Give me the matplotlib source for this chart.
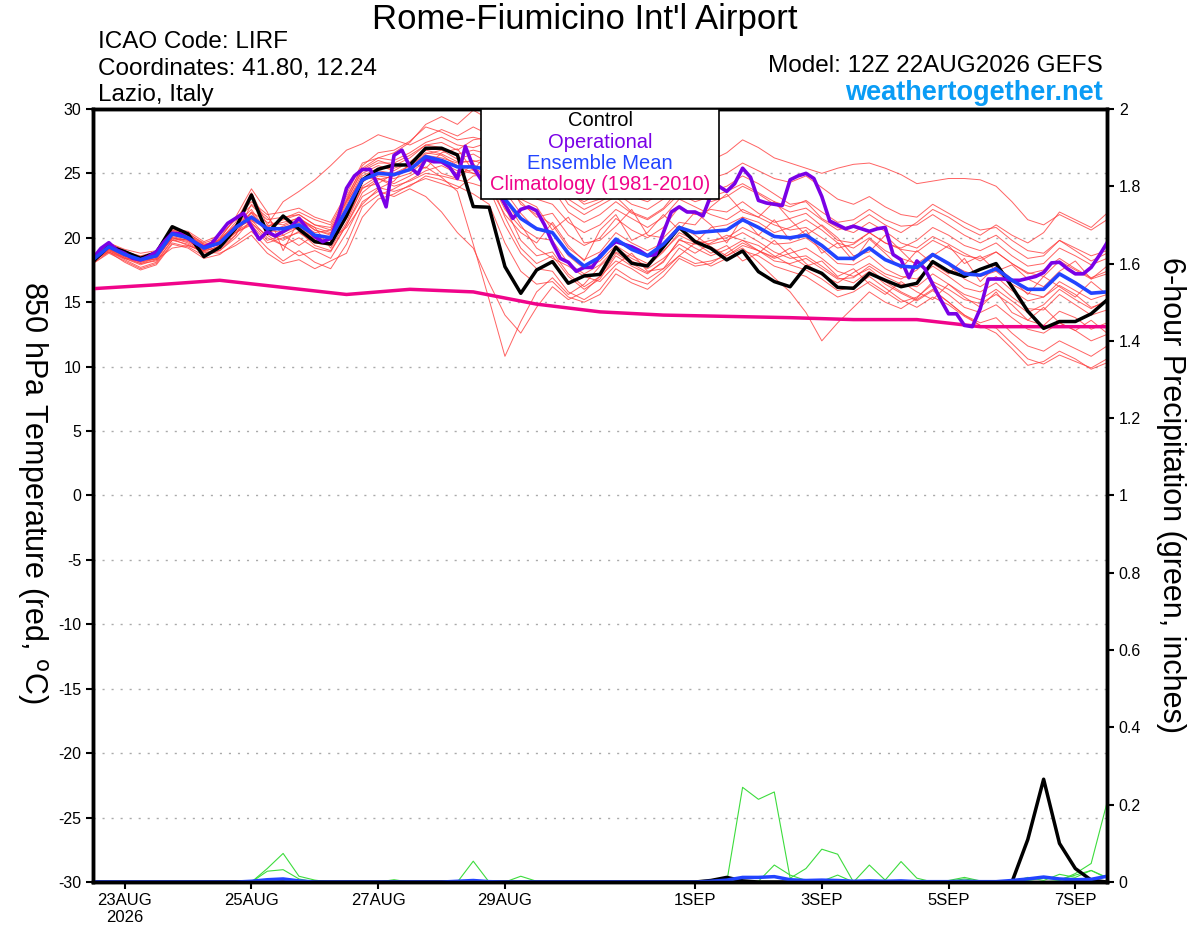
import numpy as np
import pandas as pd
import matplotlib
matplotlib.use('Agg')
import matplotlib.pyplot as plt

plt.rcParams['font.family'] = ['Liberation Sans', 'DejaVu Sans']
plt.rcParams['axes.unicode_minus'] = False

# GEFS run 12Z 22AUG2026, 6-hourly (ensemble) and 3-hourly (operational)
times6 = pd.date_range('2026-08-22 12:00', periods=65, freq='6h')
times3 = pd.date_range('2026-08-22 12:00', periods=129, freq='3h')
clim_times = pd.date_range('2026-08-22 12:00', periods=17, freq='1D')

control = [18.15, 19.36, 18.92, 18.41, 18.85, 20.86, 20.3, 18.54, 19.26, 20.74,
           23.32, 20.35, 21.69, 20.66, 19.7, 19.52, 21.7, 24.49, 25.32, 25.65,
           25.65, 26.95, 26.95, 26.43, 22.42, 22.37, 17.76, 15.69, 17.5, 18.15,
           16.47, 17.04, 17.16, 19.26, 18.02, 17.81, 19.3, 20.81, 19.7, 19.18,
           18.28, 18.98, 17.37, 16.6, 16.2, 17.76, 17.24, 16.15, 16.08, 17.24,
           16.7, 16.2, 16.47, 18.15, 17.4, 17.0, 17.55, 18.0, 16.2, 14.3,
           12.97, 13.5, 13.5, 14.1, 15.17]

ens_mean = [18.3, 19.3, 18.7, 18.3, 18.6, 20.3, 20.0, 19.2, 19.6, 20.8,
            21.6, 20.7, 20.7, 21.0, 20.2, 20.0, 22.2, 24.5, 25.0, 24.9,
            25.3, 26.3, 26.0, 25.5, 25.5, 25.3, 23.0, 21.5, 20.7, 20.4,
            18.8, 17.8, 18.5, 19.9, 19.1, 18.6, 19.5, 20.8, 20.4, 20.5,
            20.6, 21.4, 20.8, 20.1, 20.0, 20.2, 19.4, 18.4, 18.4, 19.2,
            18.3, 17.8, 17.7, 18.7, 18.0, 17.2, 17.1, 17.6, 16.7, 16.0,
            16.0, 17.2, 16.5, 15.7, 15.8]

operational = [18.41, 19.18, 19.62, 19.05, 18.79, 18.41, 18.28, 18.54, 18.92, 19.7,
               20.35, 20.3, 19.96, 19.57, 19.26, 19.57, 20.35, 21.12, 21.51, 21.9,
               20.86, 19.88, 20.48, 20.14, 20.48, 20.86, 21.51, 20.74, 20.09, 19.7,
               19.96, 21.64, 23.84, 24.8, 25.3, 25.3, 24.0, 22.4, 26.4, 26.8,
               25.5, 24.95, 26.1, 25.9, 25.9, 25.5, 24.6, 27.1, 25.5, 24.5,
               24.0, 23.7, 22.6, 21.5, 22.2, 22.4, 22.1, 21.0, 19.6, 18.4,
               18.1, 17.4, 17.7, 17.7, 18.6, 19.2, 19.7, 19.5, 19.3, 19.0,
               18.6, 18.7, 20.4, 22.0, 22.4, 22.0, 22.0, 21.7, 23.3, 24.0,
               23.6, 24.2, 25.4, 24.7, 22.9, 22.7, 22.6, 22.5, 24.5, 24.8,
               25.0, 24.6, 23.2, 21.3, 21.0, 20.7, 20.9, 20.7, 20.5, 20.7,
               20.8, 18.7, 18.3, 16.9, 18.2, 17.6, 16.4, 15.2, 14.1, 14.1,
               13.2, 13.1, 14.5, 16.8, 16.8, 16.8, 16.7, 16.7, 16.85, 17.0,
               17.3, 18.05, 18.1, 17.6, 17.2, 17.2, 17.7, 18.6, 19.6]

climatology = [16.05, 16.35, 16.7, 16.15, 15.6, 16.0, 15.8, 14.85, 14.25,
               14.0, 13.9, 13.8, 13.65, 13.65, 13.1, 13.1, 13.1]

members = [
    [18.2, 19.0, 18.5, 18.0, 18.4, 20.0, 19.7, 19.0, 19.8, 21.2, 23.5, 21.0, 22.8, 23.6, 24.5, 25.6, 26.8, 27.3, 28.0, 27.6,
     27.2, 27.8, 28.4, 27.9, 28.6, 28.0, 26.5, 25.0, 23.8, 24.5, 22.6, 21.8, 22.5, 23.2, 22.0, 21.5, 22.3, 23.8, 24.5, 23.6,
     24.0, 24.8, 24.2, 23.4, 22.6, 22.8, 21.5, 20.8, 20.4, 21.2, 20.5, 19.6, 19.2, 20.1, 19.5, 18.8, 18.2, 18.9, 18.0, 17.2,
     17.5, 18.4, 17.6, 16.9, 17.4],
    [18.4, 19.5, 18.9, 18.6, 18.9, 20.6, 20.4, 19.5, 19.4, 20.5, 21.2, 19.8, 20.2, 20.8, 19.9, 19.6, 21.5, 23.8, 24.6, 24.2,
     24.8, 25.5, 24.7, 23.6, 19.5, 15.2, 10.8, 13.5, 15.8, 16.9, 15.6, 16.4, 17.8, 18.9, 18.2, 17.6, 18.4, 19.5, 18.8, 19.6,
     20.2, 19.8, 19.0, 18.5, 19.2, 18.0, 17.1, 16.5, 17.3, 18.0, 17.2, 16.8, 17.5, 18.6, 17.9, 16.8, 16.2, 17.0, 15.9, 15.1,
     15.4, 16.6, 15.9, 15.2, 15.6],
    [18.0, 18.9, 18.3, 17.7, 18.1, 19.8, 19.5, 18.8, 19.2, 20.2, 22.0, 20.3, 19.8, 20.5, 19.4, 19.0, 21.0, 23.5, 24.5, 24.8,
     25.6, 26.5, 26.8, 26.1, 26.5, 25.8, 22.4, 19.8, 18.6, 18.9, 17.2, 16.2, 17.0, 18.8, 18.0, 17.3, 18.1, 19.9, 19.2, 18.6,
     19.1, 19.8, 19.4, 18.6, 17.9, 17.5, 16.8, 15.9, 16.2, 17.0, 16.1, 15.2, 14.6, 15.4, 14.8, 13.9, 13.2, 12.6, 11.4, 10.1,
     10.4, 11.2, 10.6, 9.8, 10.3],
    [18.5, 19.4, 18.8, 18.3, 18.7, 20.4, 20.1, 19.4, 19.9, 21.0, 21.9, 20.4, 20.9, 21.4, 20.6, 20.3, 22.6, 25.0, 25.6, 25.2,
     25.9, 26.8, 26.5, 25.9, 25.9, 26.2, 24.8, 22.6, 21.8, 21.0, 19.2, 18.3, 18.9, 20.4, 19.6, 19.0, 19.6, 20.9, 20.2, 19.3,
     18.6, 19.2, 18.1, 16.9, 15.8, 14.2, 12.0, 13.4, 14.6, 15.8, 15.0, 14.5, 15.3, 16.6, 16.0, 15.2, 14.9, 15.6, 14.8, 13.6,
     13.2, 14.3, 13.8, 12.9, 13.4],
    [18.3, 19.2, 18.6, 18.2, 18.5, 20.2, 19.9, 19.1, 19.5, 20.6, 21.5, 20.9, 21.2, 21.5, 20.8, 20.4, 22.8, 25.3, 26.0, 25.6,
     26.2, 27.2, 27.0, 26.5, 26.8, 26.5, 25.2, 24.6, 24.0, 24.2, 23.4, 22.8, 23.5, 24.3, 23.6, 23.0, 23.8, 25.2, 25.8, 26.0,
     26.6, 27.6, 27.0, 26.2, 25.8, 25.4, 25.0, 25.4, 25.7, 25.8, 25.4, 24.9, 24.2, 24.4, 24.6, 24.6, 24.5, 24.0, 22.8, 21.4,
     21.0, 21.8, 21.2, 20.6, 21.4],
    [18.6, 19.6, 19.0, 18.5, 18.8, 20.5, 20.3, 19.6, 20.0, 21.5, 22.8, 21.8, 22.0, 22.3, 21.6, 21.2, 23.4, 25.8, 26.2, 26.0,
     26.6, 27.4, 27.8, 27.2, 27.0, 27.4, 25.8, 24.8, 25.2, 24.6, 23.0, 22.2, 22.8, 23.5, 22.6, 22.2, 23.0, 24.2, 23.4, 22.8,
     23.2, 24.0, 23.4, 22.6, 22.0, 22.3, 21.4, 20.6, 21.0, 21.8, 21.0, 20.4, 21.2, 22.2, 21.6, 20.8, 20.2, 21.0, 20.2, 19.6,
     20.4, 22.0, 21.4, 20.8, 21.9],
    [18.1, 19.1, 18.4, 17.9, 18.3, 20.1, 19.8, 19.0, 19.3, 20.4, 21.0, 19.6, 20.0, 20.4, 19.6, 19.4, 21.6, 24.0, 24.8, 24.6,
     25.0, 26.0, 25.8, 25.2, 25.0, 24.6, 21.6, 19.2, 18.0, 18.6, 17.0, 16.0, 16.8, 18.6, 17.8, 17.2, 18.2, 19.8, 19.5, 19.8,
     20.0, 20.8, 20.2, 19.5, 19.6, 20.0, 19.1, 18.0, 17.9, 18.6, 17.6, 17.0, 16.8, 17.8, 17.0, 16.1, 15.8, 16.5, 15.4, 14.5,
     14.4, 15.6, 14.8, 14.0, 14.4],
    [18.0, 18.8, 18.2, 17.6, 18.0, 19.6, 19.3, 18.6, 19.0, 20.0, 21.4, 20.0, 19.4, 18.6, 19.0, 18.4, 20.4, 22.8, 23.6, 23.2,
     23.8, 23.2, 22.0, 20.4, 19.2, 16.5, 14.0, 12.6, 14.6, 16.2, 15.2, 15.8, 17.0, 18.2, 17.6, 16.8, 17.6, 19.2, 18.4, 17.8,
     18.4, 19.0, 18.6, 17.8, 17.4, 17.0, 16.2, 15.4, 15.8, 16.6, 15.8, 15.0, 15.4, 16.4, 15.6, 14.6, 14.2, 14.8, 13.8, 12.9,
     12.6, 13.4, 12.8, 12.0, 12.5],
    [18.4, 19.3, 18.7, 18.4, 18.8, 20.3, 20.1, 19.3, 19.7, 20.9, 21.7, 20.6, 20.4, 20.9, 20.0, 19.8, 21.9, 24.3, 25.2, 25.0,
     25.6, 26.4, 26.2, 25.8, 26.0, 25.6, 24.0, 22.8, 21.6, 21.9, 20.2, 19.4, 20.0, 21.5, 20.6, 20.0, 20.8, 22.4, 21.8, 22.2,
     22.0, 22.8, 21.9, 21.2, 21.5, 21.9, 20.9, 19.8, 19.6, 20.4, 19.6, 19.1, 18.9, 19.8, 19.2, 18.6, 18.4, 18.9, 18.0, 17.3,
     17.0, 18.2, 17.5, 16.8, 17.2],
    [18.2, 18.9, 18.1, 17.5, 17.9, 19.5, 19.2, 18.4, 18.7, 19.6, 20.5, 19.2, 18.2, 19.0, 18.1, 17.6, 19.5, 22.4, 23.3, 23.8,
     24.5, 25.2, 25.6, 25.0, 25.3, 25.0, 23.6, 21.9, 20.6, 20.4, 18.6, 17.6, 18.2, 19.4, 18.6, 18.0, 19.0, 20.2, 19.6, 20.8,
     21.0, 21.6, 21.2, 20.4, 20.8, 21.4, 20.6, 19.6, 19.2, 20.0, 19.0, 18.4, 18.0, 18.8, 18.0, 17.4, 17.0, 17.4, 16.4, 15.7,
     15.4, 16.3, 15.6, 14.6, 15.0],
    [18.5, 19.5, 18.9, 18.4, 18.6, 20.2, 20.0, 19.2, 19.5, 20.6, 22.0, 21.2, 21.0, 21.6, 20.6, 20.2, 22.4, 24.8, 25.4, 25.4,
     25.8, 26.6, 26.4, 25.6, 25.0, 24.6, 22.2, 20.8, 20.0, 19.8, 18.0, 17.2, 17.9, 19.2, 18.4, 17.8, 18.9, 20.4, 19.8, 19.5,
     19.8, 20.4, 19.7, 18.9, 18.4, 18.6, 17.8, 16.9, 16.5, 17.4, 16.4, 15.7, 15.1, 15.9, 15.0, 14.0, 13.4, 13.8, 12.6, 11.6,
     11.2, 12.0, 11.4, 10.8, 11.6],
    [18.3, 19.2, 18.5, 18.1, 18.5, 20.0, 19.8, 19.0, 19.6, 20.8, 21.4, 20.9, 21.4, 21.8, 21.0, 20.8, 23.0, 25.6, 26.6, 26.8,
     27.5, 28.6, 28.2, 27.6, 27.8, 27.5, 26.2, 25.6, 25.0, 24.8, 23.6, 22.6, 23.0, 24.0, 23.2, 22.8, 23.6, 24.6, 24.0, 24.6,
     25.0, 25.8, 25.2, 24.6, 24.3, 24.8, 23.9, 23.0, 22.6, 23.2, 22.4, 21.8, 21.6, 22.6, 21.9, 21.2, 20.6, 20.8, 19.8, 19.0,
     18.8, 19.8, 19.2, 18.6, 19.0],
    [18.2, 19.4, 18.8, 18.5, 18.8, 20.6, 20.2, 19.4, 19.8, 21.0, 22.2, 20.4, 20.8, 21.2, 20.4, 20.6, 22.8, 24.6, 24.6, 24.0,
     24.4, 25.0, 24.8, 24.5, 24.2, 23.8, 21.0, 18.8, 17.6, 17.4, 15.8, 15.2, 16.0, 17.6, 16.8, 16.4, 17.4, 18.6, 18.0, 18.2,
     18.6, 19.4, 19.0, 18.2, 18.0, 18.4, 17.6, 16.8, 16.9, 17.8, 17.0, 16.4, 16.2, 17.2, 16.4, 15.6, 15.2, 16.0, 15.1, 14.2,
     14.8, 16.0, 15.2, 14.5, 15.2],
    [18.4, 19.1, 18.6, 18.1, 18.4, 20.0, 19.6, 18.9, 19.4, 20.4, 21.1, 20.2, 19.4, 20.0, 19.2, 18.9, 21.0, 23.2, 23.9, 23.6,
     24.0, 24.8, 24.5, 24.0, 23.4, 22.6, 19.6, 17.4, 16.4, 16.6, 15.4, 15.0, 15.6, 17.2, 16.5, 16.0, 17.0, 18.4, 17.8, 18.0,
     18.8, 19.6, 19.0, 18.4, 18.8, 19.2, 18.4, 17.4, 17.0, 17.6, 16.6, 15.8, 15.2, 16.0, 15.0, 14.0, 13.2, 13.0, 11.8, 10.6,
     10.2, 10.9, 10.4, 9.9, 10.6],
    [18.3, 19.6, 19.1, 18.8, 19.0, 20.7, 20.5, 19.7, 20.2, 21.4, 22.5, 21.4, 21.6, 21.8, 21.0, 20.6, 22.9, 25.2, 25.8, 25.8,
     26.4, 27.2, 27.4, 26.8, 27.6, 27.8, 26.0, 24.2, 23.0, 22.6, 21.2, 20.4, 21.0, 22.2, 21.5, 20.8, 21.6, 23.0, 22.4, 21.8,
     21.4, 22.2, 21.6, 21.0, 20.6, 20.8, 20.0, 19.2, 19.5, 20.4, 19.6, 19.2, 19.8, 20.8, 20.2, 19.4, 19.0, 19.6, 18.6, 17.8,
     18.0, 19.2, 18.6, 17.9, 18.4],
    [18.2, 19.1, 18.6, 18.4, 18.7, 20.4, 20.2, 19.5, 19.8, 20.8, 21.3, 20.8, 21.5, 22.0, 21.4, 21.0, 23.2, 25.4, 26.2, 26.6,
     27.4, 28.8, 29.4, 28.8, 29.9, 29.2, 27.4, 26.0, 24.6, 23.8, 22.0, 21.2, 21.8, 22.8, 21.9, 21.4, 22.2, 23.4, 22.8, 23.2,
     23.6, 24.2, 23.5, 22.8, 22.4, 22.9, 22.0, 21.2, 21.4, 22.2, 21.4, 20.9, 21.0, 21.8, 21.0, 20.2, 19.6, 20.2, 19.2, 18.4,
     18.6, 19.8, 19.0, 18.2, 18.8],
    [18.1, 19.2, 18.8, 18.2, 18.6, 19.9, 19.4, 19.0, 19.9, 21.6, 23.8, 22.0, 19.0, 21.4, 20.8, 19.2, 21.2, 23.9, 24.2, 25.0,
     25.2, 26.1, 25.0, 24.6, 25.8, 24.0, 21.8, 20.4, 19.6, 21.2, 19.4, 18.2, 20.6, 21.8, 19.8, 20.4, 21.8, 20.6, 22.0, 21.0,
     19.6, 21.6, 20.2, 21.4, 19.8, 20.6, 18.8, 19.6, 18.2, 19.9, 18.8, 17.6, 19.0, 18.0, 17.2, 18.4, 16.6, 17.8, 16.8, 15.6,
     17.0, 16.2, 15.4, 16.6, 15.6],
    [18.3, 18.9, 18.4, 18.0, 18.2, 19.8, 19.9, 19.2, 19.0, 20.2, 22.6, 21.6, 20.2, 19.4, 20.2, 19.9, 20.8, 22.6, 23.8, 24.4,
     25.8, 25.4, 26.6, 26.9, 25.2, 26.8, 24.2, 23.0, 22.4, 20.6, 21.6, 19.6, 19.8, 20.9, 22.2, 20.2, 20.0, 21.2, 21.0, 22.4,
     23.4, 22.0, 21.6, 22.8, 21.4, 20.2, 21.0, 20.0, 18.6, 18.9, 20.2, 19.0, 17.8, 18.6, 19.4, 18.0, 18.6, 17.4, 17.9, 16.8,
     16.2, 17.4, 18.2, 16.8, 17.8],
    [18.4, 19.0, 18.4, 18.3, 18.3, 19.2, 19.4, 18.9, 18.8, 19.4, 20.2, 18.8, 18.0, 18.3, 17.6, 18.2, 18.8, 21.6, 23.0, 23.4,
     24.1, 24.6, 24.2, 23.8, 24.8, 24.9, 23.0, 21.0, 19.2, 18.4, 17.8, 17.0, 16.6, 17.9, 18.8, 17.4, 17.6, 18.6, 19.6, 18.8,
     19.4, 18.2, 18.8, 19.8, 18.6, 17.8, 18.2, 17.0, 17.6, 16.4, 15.6, 16.6, 15.8, 15.2, 16.4, 15.4, 14.6, 15.8, 14.2, 13.6,
     14.6, 13.4, 12.8, 13.6, 12.6],
]

# 6-hour precipitation (inches)
precip_control = [0, 0, 0, 0, 0, 0, 0, 0, 0, 0,
                  0, 0, 0, 0, 0, 0, 0, 0, 0, 0,
                  0, 0, 0, 0, 0, 0, 0, 0, 0, 0,
                  0, 0, 0, 0, 0, 0, 0, 0, 0, 0.004,
                  0.012, 0.003, 0, 0, 0, 0, 0, 0, 0, 0,
                  0, 0, 0, 0, 0, 0, 0, 0, 0, 0.11,
                  0.266, 0.10, 0.035, 0.005, 0]

precip_mean = [0, 0, 0, 0, 0, 0, 0, 0, 0, 0,
               0.002, 0.006, 0.008, 0.003, 0, 0, 0, 0, 0, 0,
               0, 0, 0, 0.002, 0.004, 0.001, 0, 0, 0, 0,
               0, 0, 0, 0, 0, 0, 0, 0, 0, 0.002,
               0.005, 0.012, 0.012, 0.014, 0.006, 0.004, 0.005, 0.004, 0.002, 0.003,
               0.002, 0.003, 0.001, 0.001, 0.001, 0.002, 0.001, 0.001, 0.004, 0.008,
               0.013, 0.008, 0.006, 0.007, 0.015]

precip_members = [
    [0, 0, 0, 0, 0, 0, 0, 0, 0, 0,
     0, 0, 0, 0, 0, 0, 0, 0, 0, 0,
     0, 0, 0, 0, 0, 0, 0, 0, 0, 0,
     0, 0, 0, 0, 0, 0, 0, 0, 0, 0,
     0, 0.245, 0.214, 0.233, 0.01, 0.035, 0.085, 0.072, 0, 0.044,
     0.005, 0.053, 0.01, 0, 0, 0, 0, 0, 0, 0,
     0, 0.004, 0.022, 0.048, 0.205],
    [0, 0, 0, 0, 0, 0, 0, 0, 0, 0,
     0, 0.035, 0.074, 0.015, 0.005, 0, 0, 0, 0, 0,
     0, 0, 0, 0, 0, 0, 0, 0, 0, 0,
     0, 0, 0, 0, 0, 0, 0, 0, 0, 0,
     0, 0, 0.002, 0.044, 0.018, 0.004, 0.002, 0.018, 0, 0,
     0, 0, 0, 0, 0.004, 0.012, 0.003, 0, 0, 0.012,
     0.004, 0.02, 0.012, 0.03, 0.01],
    [0, 0, 0, 0, 0, 0, 0, 0, 0, 0,
     0, 0.028, 0.032, 0.008, 0, 0, 0, 0, 0, 0.006,
     0, 0, 0, 0, 0.054, 0, 0, 0.015, 0.002, 0,
     0, 0, 0, 0, 0, 0, 0, 0, 0, 0,
     0, 0, 0, 0, 0, 0, 0, 0, 0, 0,
     0, 0, 0, 0, 0.002, 0.008, 0.002, 0, 0, 0.004,
     0.01, 0.006, 0.018, 0.03, 0.012],
]

tick_dates = pd.to_datetime(['2026-08-23', '2026-08-25', '2026-08-27', '2026-08-29',
                             '2026-09-01', '2026-09-03', '2026-09-05', '2026-09-07'])
tick_labels = ['23AUG\n2026', '25AUG', '27AUG', '29AUG', '1SEP', '3SEP', '5SEP', '7SEP']

red = '#ff3c3c'
purple = '#7a00e6'
blue = '#2244ff'
pink = '#f0048a'
green = '#3ddc3d'


def main():
    fig = plt.figure(figsize=(12, 9.27), dpi=100)
    ax = fig.add_axes([0.0775, 0.0485, 0.845, 0.834])
    ax2 = ax.twinx()

    for m in members:
        ax.plot(times6, m, color=red, lw=0.7, alpha=0.8, zorder=2)

    ax.plot(clim_times, climatology, color=pink, lw=2.5, zorder=3)
    ax.plot(times6, control, color='black', lw=2.5, zorder=4)
    ax.plot(times3, operational, color=purple, lw=2.6, zorder=5)
    ax.plot(times6, ens_mean, color=blue, lw=2.6, zorder=6)

    for p in precip_members:
        ax2.plot(times6, p, color=green, lw=0.8)
    ax2.plot(times6, precip_control, color='black', lw=2.5)
    ax2.plot(times6, precip_mean, color=blue, lw=2.5)

    ax.set_xlim(times6[0], times6[-1])
    ax.set_ylim(-30, 30)
    ax2.set_ylim(0, 2)
    ax.set_yticks(np.arange(-30, 31, 5))
    ax2.set_yticks(np.arange(0, 2.01, 0.2))
    ax2.set_yticklabels(['0', '0.2', '0.4', '0.6', '0.8', '1', '1.2', '1.4', '1.6', '1.8', '2'])
    ax.set_xticks(tick_dates)
    ax.set_xticklabels(tick_labels, linespacing=1.15)

    for y in range(-25, 30, 5):
        ax.axhline(y, color='#aaaaaa', lw=1.0, ls=(0, (1.5, 5)), zorder=1)

    for a in (ax, ax2):
        for s in a.spines.values():
            s.set_linewidth(2.5)
        a.tick_params(direction='out', length=5, width=1.5, labelsize=11.5)
    ax.tick_params(axis='x', pad=3, labelsize=12)

    # axis titles, both read top to bottom
    fig.text(0.027, 0.469, '850 hPa Temperature (red, $^{\\mathrm{o}}$C)', fontsize=22,
             rotation=-90, ha='center', va='center')
    fig.text(0.976, 0.466, '6-hour Precipitation (green, inches)', fontsize=22,
             rotation=-90, ha='center', va='center')

    # legend box
    ax2.text(0.5, 0.9845, 'Control', transform=ax.transAxes, ha='center', va='center',
             fontsize=14.5, color='black', zorder=11)
    ax2.text(0.5, 0.957, 'Operational', transform=ax.transAxes, ha='center', va='center',
             fontsize=14.5, color=purple, zorder=11)
    ax2.text(0.5, 0.930, 'Ensemble Mean', transform=ax.transAxes, ha='center', va='center',
             fontsize=14.5, color=blue, zorder=11)
    ax2.text(0.5, 0.9017, 'Climatology (1981-2010)', transform=ax.transAxes, ha='center',
             va='center', fontsize=14.5, color=pink, zorder=11)
    box = plt.Rectangle((0.3827, 0.883), 0.2347, 0.117, transform=ax.transAxes,
                        facecolor='white', edgecolor='black', lw=1.2, zorder=10)
    ax2.add_patch(box)

    fig.text(0.4875, 0.979, "Rome-Fiumicino Int'l Airport", ha='center', va='center', fontsize=25)
    fig.text(0.0815, 0.955, 'ICAO Code: LIRF', ha='left', va='center', fontsize=17.5)
    fig.text(0.0815, 0.926, 'Coordinates: 41.80, 12.24', ha='left', va='center', fontsize=17.5)
    fig.text(0.0815, 0.897, 'Lazio, Italy', ha='left', va='center', fontsize=17.5)
    fig.text(0.919, 0.929, 'Model: 12Z 22AUG2026 GEFS', ha='right', va='center', fontsize=17.5)
    fig.text(0.919, 0.900, 'weathertogether.net', ha='right', va='center', fontsize=19.5,
             fontweight='bold', color='#0a9cf5')

    fig.savefig('out.png', dpi=100)


if __name__ == "__main__":
    main()
